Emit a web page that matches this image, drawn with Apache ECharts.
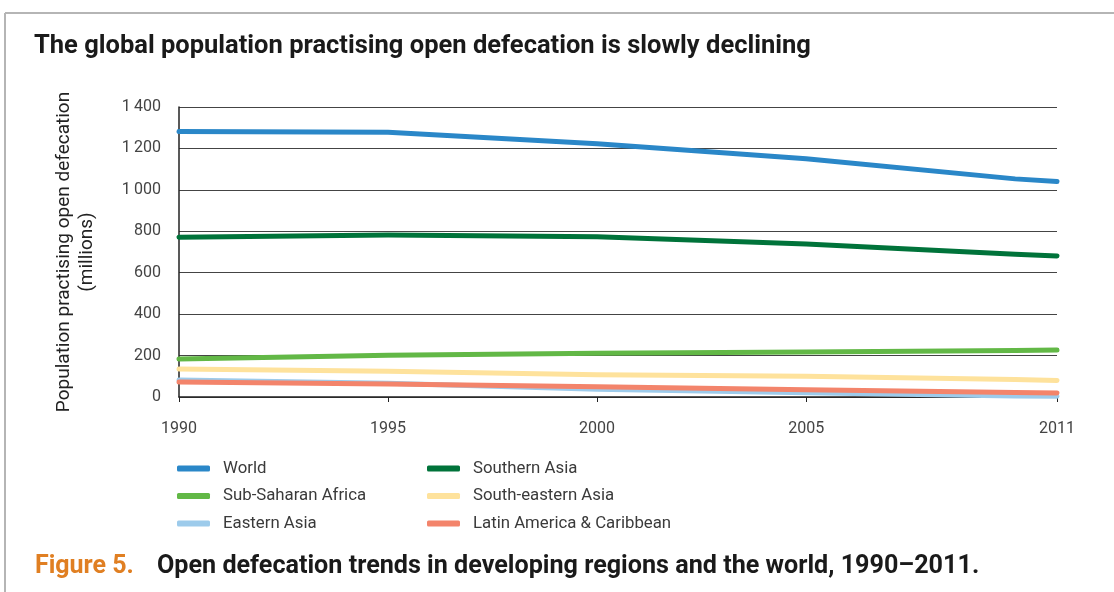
<!DOCTYPE html>
<html>
<head>
<meta charset="utf-8">
<script src="https://cdn.jsdelivr.net/npm/echarts@6/dist/echarts.min.js"></script>
<style>
  html, body { margin: 0; padding: 0; background: #fff; }
  #chart { width: 1114px; height: 592px; }
</style>
</head>
<body>
<div id="chart"></div>
<script>
const years = [1990, 1995, 2000, 2005, 2010, 2011]
const xTicks = [1990, 1995, 2000, 2005, 2011]

const world = [1282, 1278, 1223, 1150, 1053, 1040]
const southernAsia = [771, 782, 774, 739, 689, 681]
const subSaharan = [183, 201, 211, 217, 224, 227]
const southEastern = [135, 124, 108, 100, 84, 80]
const easternAsia = [82, 66, 38, 20, 5, 4]
const latinAmerica = [72, 63, 50, 35, 22, 19]

const SERIES = [
  { name: 'World', data: world, color: '#2a87c8' },
  { name: 'Southern Asia', data: southernAsia, color: '#00733a' },
  { name: 'Sub-Saharan Africa', data: subSaharan, color: '#62b846' },
  { name: 'South-eastern Asia', data: southEastern, color: '#fee29c' },
  { name: 'Eastern Asia', data: easternAsia, color: '#9dcbeb' },
  { name: 'Latin America & Caribbean', data: latinAmerica, color: '#f3846b' }
]

const FONT = 'Roboto, "Noto Sans", sans-serif'

function fmtThousands(v) {
  return v >= 1000 ? Math.floor(v / 1000) + '\u2009' + String(v % 1000).padStart(3, '0') : String(v)
}

const chart = echarts.init(document.getElementById('chart'), null, { renderer: 'canvas' })

const legendBase = {
  orient: 'vertical',
  top: 458.5,
  padding: 0,
  itemWidth: 33,
  itemHeight: 6,
  itemGap: 7.5,
  icon: 'roundRect',
  textStyle: { color: '#3a3a3a', fontSize: 16.8, lineHeight: 20, fontFamily: FONT, padding: [0, 0, 0, 8] }
}

chart.setOption({
  animation: false,
  textStyle: { fontFamily: FONT },
  legend: [
    { ...legendBase, left: 177, data: ['World', 'Sub-Saharan Africa', 'Eastern Asia'] },
    { ...legendBase, left: 427, data: ['Southern Asia', 'South-eastern Asia', 'Latin America & Caribbean'] }
  ],
  grid: { left: 179, right: 57, top: 107, bottom: 195 },
  xAxis: {
    type: 'value',
    min: 1990,
    max: 2011,
    axisLine: { show: true, lineStyle: { color: '#222', width: 1.5 } },
    axisTick: { show: true, length: 5, customValues: xTicks, lineStyle: { color: '#222' } },
    axisLabel: { customValues: xTicks, color: '#444', fontSize: 16, margin: 24, formatter: v => String(v) },
    splitLine: { show: false }
  },
  yAxis: {
    type: 'value',
    min: 0,
    max: 1400,
    interval: 200,
    name: 'Population practising open defecation\n(millions)',
    nameLocation: 'middle',
    nameRotate: 90,
    nameGap: 80,
    nameTextStyle: { color: '#222', fontSize: 19, lineHeight: 23, fontFamily: FONT },
    axisLine: { show: true, lineStyle: { color: '#222', width: 1.5 } },
    axisTick: { show: false },
    axisLabel: { color: '#444', fontSize: 16, margin: 18, formatter: fmtThousands },
    splitLine: { show: true, lineStyle: { color: '#444', width: 1.2 } }
  },
  series: SERIES.map(s => ({
    name: s.name,
    type: 'line',
    data: years.map((y, i) => [y, s.data[i]]),
    showSymbol: false,
    symbol: 'none',
    color: s.color,
    lineStyle: { color: s.color, width: 5, cap: 'round', join: 'round' }
  })),
  graphic: [
    { type: 'line', shape: { x1: 5, y1: 13, x2: 1114, y2: 13 }, style: { stroke: '#b5b5b5', lineWidth: 2 } },
    { type: 'line', shape: { x1: 5, y1: 13, x2: 5, y2: 592 }, style: { stroke: '#b5b5b5', lineWidth: 2 } },
    {
      type: 'text', x: 34, y: 47,
      style: { text: 'The global population practising open defecation is slowly declining', fill: '#1a1a1a', font: 'bold 25.5px ' + FONT, verticalAlign: 'middle' }
    },
    {
      type: 'text', x: 35, y: 567,
      style: { text: 'Figure 5.', fill: '#e07f22', font: 'bold 25px ' + FONT, verticalAlign: 'middle' }
    },
    {
      type: 'text', x: 157, y: 567,
      style: { text: 'Open defecation trends in developing regions and the world, 1990\u20132011.', fill: '#1a1a1a', font: 'bold 25.15px ' + FONT, verticalAlign: 'middle' }
    }
  ]
})
</script>
</body>
</html>
